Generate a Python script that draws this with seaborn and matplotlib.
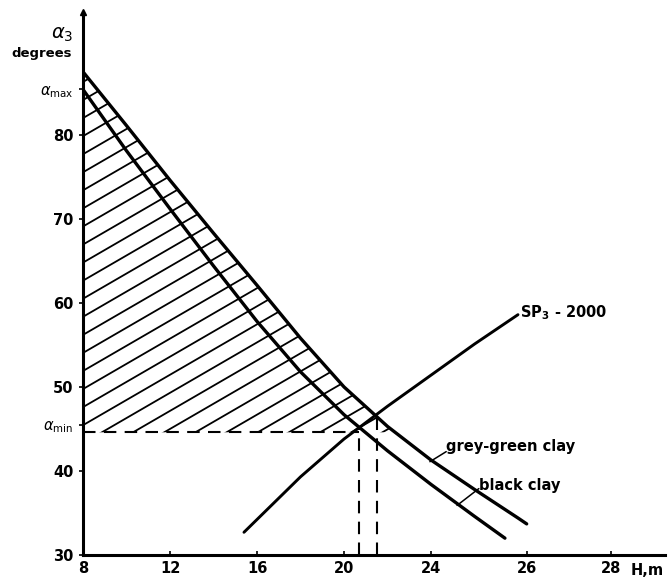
import numpy as np
import pandas as pd
import matplotlib
matplotlib.use("Agg")
import matplotlib.pyplot as plt
from matplotlib.patches import Polygon
import seaborn as sns

# curve values (H in m, alpha_3 in degrees)
grey_h = [8, 10, 12, 14, 16, 18, 20, 22, 24, 26, 28, 28.4]
grey_a = [87.5, 81.1, 74.6, 68.3, 62.1, 55.8, 50.0, 45.3, 41.3, 37.8, 34.4, 33.7]
black_h = [8, 10, 12, 14, 16, 18, 20, 22, 24, 26, 27.4]
black_a = [85.4, 78.1, 71.2, 64.4, 57.8, 51.8, 46.7, 42.4, 38.4, 34.6, 32.0]
sp_h = [15.4, 18, 20, 22, 24, 26, 28]
sp_a = [32.7, 39.3, 43.8, 47.7, 51.4, 55.1, 58.6]

alpha_min = 44.6
alpha_max = 85.4
cross_h = [20.7, 21.5]
cross_a = [45.0, 46.3]

xtick_pos = [8, 12, 16, 20, 24, 28.4, 32.3]
xtick_lab = ["8", "12", "16", "20", "24", "26", "28"]
ytick_pos = [30, 40, 50, 60, 70, 80]

sns.set_style("ticks")
plt.rcParams['font.family'] = ['DejaVu Sans']
plt.rcParams['text.color'] = 'black'
plt.rcParams['xtick.color'] = 'black'
plt.rcParams['ytick.color'] = 'black'

fig = plt.figure(figsize=(6.68, 5.81), dpi=100)
ax = fig.add_axes([0.1243, 0.0448, 0.8712, 0.9342])

df_grey = pd.DataFrame({"H": grey_h, "a": grey_a})
df_black = pd.DataFrame({"H": black_h, "a": black_a})
df_sp = pd.DataFrame({"H": sp_h, "a": sp_a})

sns.lineplot(data=df_grey, x="H", y="a", color="black", lw=2.4, ax=ax, sort=False)
sns.lineplot(data=df_black, x="H", y="a", color="black", lw=2.4, ax=ax, sort=False)
sns.lineplot(data=df_sp, x="H", y="a", color="black", lw=2.1, ax=ax, sort=False)

# hatched zone: between the axis, alpha_min and the grey-green clay curve
gx = np.array(grey_h)
ga = np.array(grey_a)
h_end = np.interp(alpha_min, ga[::-1], gx[::-1])
keep = gx < h_end
poly_x = [8] + list(gx[keep]) + [h_end, 8]
poly_y = [grey_a[0]] + list(ga[keep]) + [alpha_min, alpha_min]
clip = Polygon(np.column_stack([poly_x, poly_y]), closed=True, facecolor="none",
               edgecolor="none", transform=ax.transData)
ax.add_patch(clip)
hx = np.array([8, 24])
for c in np.arange(alpha_min - 40, 90, 2.15):
    ln, = ax.plot(hx, c + 1.5 * (hx - 8), color="black", lw=1.3)
    ln.set_clip_path(clip)

# dashed guide lines
ax.plot([8, cross_h[0]], [alpha_min, alpha_min], color="black", lw=1.5,
        ls=(0, (6, 4)))
for h, a in zip(cross_h, cross_a):
    ax.plot([h, h], [30, a], color="black", lw=1.5, ls=(0, (6, 4)))

# curve labels with leader lines
ax.text(24.7, 42.9, "grey-green clay", fontsize=10.5, fontweight="bold",
        ha="left", va="center")
ax.plot([24.7, 23.95], [42.3, 41.1], color="black", lw=1.1)
ax.text(26.2, 38.3, "black clay", fontsize=10.5, fontweight="bold",
        ha="left", va="center")
ax.plot([26.2, 25.2], [37.9, 35.9], color="black", lw=1.1)
ax.text(28.1, 58.9, r"SP$_\mathbf{3}$ - 2000", fontsize=10.5, fontweight="bold",
        ha="left", va="center")

ax.set_xlim(8, 34.76)
ax.set_ylim(30, 94.6)
ax.set_xticks(xtick_pos)
ax.set_xticklabels(xtick_lab, fontweight="bold")
ax.set_yticks(ytick_pos + [alpha_min + 0.9, alpha_max])
ax.set_yticklabels([str(v) for v in ytick_pos] +
                   [r"$\alpha_{\rm min}$", r"$\alpha_{\rm max}$"], fontweight="bold")
ax.tick_params(axis="x", direction="in", length=3, width=1.2, labelsize=10.5, pad=4)
ax.tick_params(axis="y", direction="out", length=3, width=1.2, labelsize=10.5, pad=4)
ax.set_xlabel("")
ax.set_ylabel("")

sns.despine(ax=ax)
for s in ["left", "bottom"]:
    ax.spines[s].set_linewidth(2.2)
    ax.spines[s].set_color("black")
ax.plot([0], [1], marker="^", color="black", ms=5, transform=ax.transAxes,
        clip_on=False)

ax.text(-0.035, 0.958, r"$\alpha_3$", transform=ax.transAxes, fontsize=14,
        ha="center", va="center")
ax.text(-0.072, 0.923, "degrees", transform=ax.transAxes, fontsize=9.5,
        fontweight="bold", ha="center", va="center")
ax.text(0.97, -0.015, "H,m", transform=ax.transAxes, fontsize=10.5,
        fontweight="bold", ha="center", va="top")

fig.savefig("out.png", dpi=100)
